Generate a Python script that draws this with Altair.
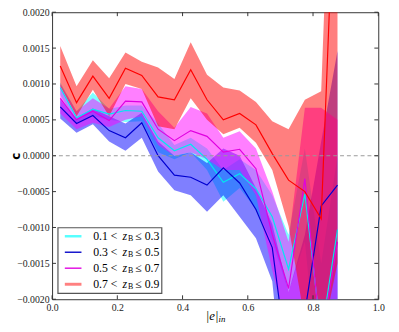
import altair as alt
import pandas as pd

# ---- data (values in units of 1e-3) ----
x_bins = [0.025, 0.075, 0.125, 0.175, 0.225, 0.275, 0.325, 0.375, 0.425,
          0.475, 0.525, 0.575, 0.625, 0.675, 0.725, 0.775, 0.825, 0.875]

cyan_mean = [0.95, 0.53, 0.65, 0.58, 0.63, 0.62, 0.25, 0.07, 0.16, -0.05, -0.37, -0.25, -0.46, -0.85, -1.58, -0.53, -2.5, -1.03]
cyan_hi   = [1.02, 0.62, 0.88, 0.65, 0.70, 0.70, 0.45, 0.15, 0.25, 0.10, -0.20, -0.05, -0.20, -0.55, -1.10, 0.10, -1.5, 0.0]
cyan_lo   = [0.85, 0.45, 0.55, 0.50, 0.47, 0.48, 0.05, -0.05, 0.05, -0.20, -0.64, -0.45, -0.75, -1.20, -1.90, -1.2, -3.5, -2.5]

blue_mean = [0.68, 0.45, 0.56, 0.35, 0.25, 0.46, 0.00, -0.27, -0.30, -0.41, -0.17, -0.38, -0.75, -1.28, -3.0, -2.18, -0.70, -0.41]
blue_hi   = [0.78, 0.52, 0.66, 0.55, 0.45, 0.60, 0.20, 0.00, 0.05, -0.10, 0.10, 0.00, -0.45, -0.95, -1.9, -1.1, 0.2, 1.46]
blue_lo   = [0.52, 0.32, 0.44, 0.20, 0.07, 0.25, -0.22, -0.48, -0.55, -0.78, -0.55, -0.85, -1.15, -1.75, -4.0, -3.5, -2.5, -2.5]

mag_mean = [0.80, 0.50, 0.62, 0.49, 0.76, 0.75, 0.37, 0.21, 0.35, 0.27, 0.05, 0.09, -0.18, -1.10, -1.85, -0.32, -2.6, -1.2]
mag_hi   = [1.00, 0.62, 0.80, 0.66, 0.97, 0.93, 0.62, 0.39, 0.68, 0.59, 0.25, 0.34, 0.10, -0.50, -1.20, 0.67, 0.67, 0.5]
mag_lo   = [0.59, 0.37, 0.46, 0.40, 0.50, 0.55, 0.15, 0.00, 0.05, -0.05, -0.20, -0.20, -0.55, -1.60, -2.50, -2.5, -4.0, -3.0]

red_mean = [1.25, 0.74, 1.11, 0.80, 1.22, 1.12, 0.82, 0.78, 1.20, 0.78, 0.50, 0.59, 0.43, 0.03, -0.34, -0.50, -0.88, 4.9]
red_hi   = [1.53, 0.97, 1.33, 1.08, 1.44, 1.31, 1.23, 1.07, 1.58, 1.13, 0.95, 0.91, 0.75, 0.48, 0.37, 0.78, 0.90, 7.0]
red_lo   = [0.97, 0.55, 0.92, 0.55, 1.00, 0.93, 0.41, 0.37, 0.80, 0.50, 0.30, 0.39, 0.18, -0.20, -0.98, -2.3, -2.6, -1.5]

legend_lo = ["0.1", "0.3", "0.5", "0.7"]
legend_hi = ["0.3", "0.5", "0.7", "0.9"]

x_ticks = [0.0, 0.2, 0.4, 0.6, 0.8, 1.0]
y_ticks = [-0.002, -0.0015, -0.001, -0.0005, 0.0, 0.0005, 0.001, 0.0015, 0.002]

UNIT = 1e-3

W, H = 333, 293
SERIF = "Liberation Serif"

series = [
    (cyan_mean, cyan_lo, cyan_hi, "#00ffff", "#00e8f0"),
    (blue_mean, blue_lo, blue_hi, "#0000ff", "#0000d0"),
    (mag_mean, mag_lo, mag_hi, "#ff00ff", "#e000e0"),
    (red_mean, red_lo, red_hi, "#ff0000", "#ff0000"),
]

xs = alt.Scale(domain=[0, 1], nice=False, zero=False)
ys = alt.Scale(domain=[-0.002, 0.002], nice=False, zero=False)

x_axis = alt.Axis(values=x_ticks, format=".1f", title=None,
                  labelFlush=False, labelOverlap=False)
y_axis = alt.Axis(values=y_ticks, format=".4f", title="c", labelFlush=False, labelOverlap=False,
                  titleX=-37, titleY=H / 2, titleAngle=270, titleAlign="center",
                  titleBaseline="middle", titleFont="DejaVu Sans", titleFontWeight="bold",
                  titleFontSize=12, titleColor="#000")


def X(field):
    return alt.X(field, type="quantitative", scale=xs, axis=x_axis)


def Y(field):
    return alt.Y(field, type="quantitative", scale=ys, axis=y_axis)


frames = []
for m, lo, hi, band_c, line_c in series:
    frames.append(pd.DataFrame({
        "x": x_bins,
        "mean": [v * UNIT for v in m],
        "lo": [v * UNIT for v in lo],
        "hi": [v * UNIT for v in hi],
    }))

bands = []
lines = []
for df, (m, lo, hi, band_c, line_c) in zip(frames, series):
    bands.append(alt.Chart(df).mark_area(opacity=0.5, color=band_c, clip=True).encode(
        x=X("x"), y=Y("lo"), y2="hi:Q",
    ))
    lines.append(alt.Chart(df).mark_line(color=line_c, strokeWidth=1.2, clip=True).encode(
        x=X("x"), y=Y("mean"),
    ))

zero_df = pd.DataFrame({"z": [0.0]})
zero_line = alt.Chart(zero_df).mark_rule(color="#999999", strokeDash=[4, 3], strokeWidth=1).encode(
    y=Y("z"))

xt_df = pd.DataFrame({"t": x_ticks})
yt_df = pd.DataFrame({"t": y_ticks})
TC = "#333333"
tick_layers = [
    alt.Chart(xt_df).mark_rule(color=TC).encode(x=X("t"), y=alt.value(H), y2=alt.value(H - 4)),
    alt.Chart(xt_df).mark_rule(color=TC).encode(x=X("t"), y=alt.value(0), y2=alt.value(4)),
    alt.Chart(yt_df).mark_rule(color=TC).encode(y=Y("t"), x=alt.value(0), x2=alt.value(4)),
    alt.Chart(yt_df).mark_rule(color=TC).encode(y=Y("t"), x=alt.value(W), x2=alt.value(W - 4)),
]

# ---- legend drawn as marks ----
leg_layers = [
    alt.Chart(zero_df).mark_rect(fill="white", stroke="#555555", strokeWidth=1.2).encode(
        x=alt.value(6), x2=alt.value(112), y=alt.value(220), y2=alt.value(287))
]
leg_styles = [("#55ffff", 2.5), ("#0000c8", 1.4), ("#e000e0", 1.4), ("#ff8080", 3.0)]
row_y = [228.7, 245, 261.3, 277.7]
for (col, sw), yy, a, b in zip(leg_styles, row_y, legend_lo, legend_hi):
    leg_layers.append(alt.Chart(zero_df).mark_rule(color=col, strokeWidth=sw).encode(
        x=alt.value(13), x2=alt.value(30), y=alt.value(yy)))
    leg_layers.append(alt.Chart(zero_df).mark_text(
        align="left", baseline="middle", font=SERIF, fontSize=12, color="#000").encode(
        x=alt.value(42), y=alt.value(yy), text=alt.value(a + " <")))
    leg_layers.append(alt.Chart(zero_df).mark_text(
        align="left", baseline="middle", font=SERIF, fontSize=12, fontStyle="italic", color="#000").encode(
        x=alt.value(72), y=alt.value(yy), text=alt.value("z")))
    leg_layers.append(alt.Chart(zero_df).mark_text(
        align="left", baseline="middle", font=SERIF, fontSize=8, color="#000").encode(
        x=alt.value(77.5), y=alt.value(yy + 3), text=alt.value("B")))
    leg_layers.append(alt.Chart(zero_df).mark_text(
        align="left", baseline="middle", font=SERIF, fontSize=12, color="#000").encode(
        x=alt.value(85), y=alt.value(yy), text=alt.value("≤ " + b)))

# x-axis title |e|_in
xtitle = [
    alt.Chart(zero_df).mark_text(align="left", baseline="middle", font=SERIF, fontSize=13,
                                 fontStyle="italic", color="#000").encode(
        x=alt.value(157), y=alt.value(310), text=alt.value("|e|")),
    alt.Chart(zero_df).mark_text(align="left", baseline="middle", font=SERIF, fontSize=9,
                                 fontStyle="italic", color="#000").encode(
        x=alt.value(170), y=alt.value(313), text=alt.value("in")),
]

chart = alt.layer(*bands, *lines, zero_line, *tick_layers, *leg_layers, *xtitle).properties(
    width=W, height=H,
    autosize=alt.AutoSizeParams(type="none"),
    padding={"left": 45, "top": 1, "right": 13, "bottom": 24},
).configure_view(stroke="#333333", strokeWidth=1).configure_axis(
    grid=False, ticks=False, domain=False, labelFont=SERIF, labelFontSize=10,
    labelColor="#222222", labelPadding=3,
)

chart.save("out.html", embed_options={"renderer": "svg", "actions": False})
